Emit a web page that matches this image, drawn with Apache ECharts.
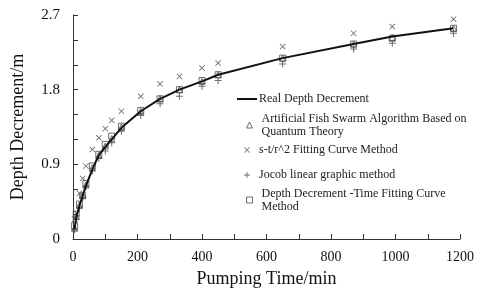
<!DOCTYPE html>
<html><head><meta charset="utf-8">
<script src="https://cdn.jsdelivr.net/npm/echarts@6/dist/echarts.min.js"></script>
<style>html,body{margin:0;padding:0;background:#fff}#c{width:480px;height:296px}</style>
</head><body><div id="c"></div>
<script>
// Pumping time (min)
const times = [5, 10, 20, 30, 40, 60, 80, 100, 120, 150, 210, 270, 330, 400, 450, 650, 870, 990, 1180];
// Depth decrement (m)
const realDepth   = [0.12, 0.26, 0.40, 0.52, 0.64, 0.84, 1.01, 1.11, 1.20, 1.34, 1.54, 1.69, 1.80, 1.90, 1.98, 2.18, 2.35, 2.44, 2.54];
const fishSwarm   = [0.13, 0.27, 0.41, 0.53, 0.65, 0.86, 1.01, 1.12, 1.21, 1.35, 1.54, 1.69, 1.80, 1.90, 1.98, 2.18, 2.35, 2.43, 2.54];
const strFitting  = [0.24, 0.31, 0.55, 0.73, 0.88, 1.08, 1.22, 1.33, 1.43, 1.54, 1.72, 1.87, 1.96, 2.06, 2.12, 2.32, 2.48, 2.56, 2.65];
const jacobLinear = [0.11, 0.24, 0.37, 0.50, 0.63, 0.82, 0.97, 1.06, 1.16, 1.30, 1.49, 1.63, 1.72, 1.84, 1.91, 2.11, 2.29, 2.36, 2.48];
const timeFitting = [0.16, 0.30, 0.42, 0.52, 0.67, 0.88, 1.02, 1.14, 1.24, 1.36, 1.55, 1.69, 1.80, 1.91, 1.98, 2.18, 2.35, 2.42, 2.54];
// Axis tick labels (ticks every 100 min / 0.3 m, labels on these)
const xTickLabels = [0, 200, 400, 600, 800, 1000, 1200];
const yTickLabels = [0, 0.9, 1.8, 2.7];

const names = [
  'Real Depth Decrement',
  'Artificial Fish Swarm Algorithm Based on Quantum Theory',
  's-t/r^2 Fitting Curve Method',
  'Jocob linear graphic method',
  'Depth Decrement -Time Fitting Curve Method'
];
const legendText = {
  [names[0]]: 'Real Depth Decrement',
  [names[1]]: 'Artificial Fish Swarm Algorithm Based on\nQuantum Theory',
  [names[2]]: 's-t/r^2 Fitting Curve Method',
  [names[3]]: 'Jocob linear graphic method',
  [names[4]]: 'Depth Decrement -Time Fitting Curve\nMethod'
};

const serif = "'Liberation Serif','Times New Roman',serif";
const axisColor = '#333';
const markColor = '#4a4a4a';
const PLUS = 'path://M8.5,0h3v8.5h8.5v3h-8.5v8.5h-3v-8.5h-8.5v-3h8.5z';
const CROSS = 'path://M0,2L2,0L10,8L18,0L20,2L12,10L20,18L18,20L10,12L2,20L0,18L8,10Z';
const LINEICON = 'path://M0,0h20v2h-20z';

function pairs(ys) { return times.map((t, i) => [t, ys[i]]); }

const legTextBase = { fontFamily: serif, fontSize: 12, color: '#222', lineHeight: 13 };
function legend(name, left, top, w, h, extra) {
  return Object.assign({
    data: [name], left: left, top: top, padding: 0, orient: 'vertical',
    itemWidth: w, itemHeight: h, selectedMode: false,
    formatter: n => legendText[n],
    textStyle: Object.assign({}, legTextBase, { padding: [0, 0, 0, 4] })
  }, extra || {});
}

const chart = echarts.init(document.getElementById('c'), null, { renderer: 'canvas' });
chart.setOption({
  animation: false,
  backgroundColor: '#fff',
  grid: { left: 73, right: 20, top: 15, bottom: 57, outerBoundsMode: 'none' },
  legend: [
    legend(names[0], 237, 92.5, 20, 2, {
      icon: LINEICON,
      textStyle: Object.assign({}, legTextBase, { padding: [0, 0, 0, -3] })
    }),
    legend(names[1], 244, 105.5, 6, 6, {
      itemStyle: { borderWidth: 1 },
      textStyle: Object.assign({}, legTextBase, { padding: [13, 0, 0, 4] })
    }),
    legend(names[2], 244, 143.5, 6, 6),
    legend(names[3], 244, 168.5, 6, 6),
    legend(names[4], 244, 180.5, 6, 6, {
      itemStyle: { borderWidth: 1 },
      textStyle: Object.assign({}, legTextBase, { padding: [13, 0, 0, 4] })
    })
  ],
  xAxis: {
    type: 'value', min: 0, max: 1200, interval: 100,
    name: 'Pumping Time/min', nameLocation: 'middle', nameGap: 31,
    nameTextStyle: { fontFamily: serif, fontSize: 18, color: '#111' },
    axisLine: { show: true, lineStyle: { color: axisColor, width: 1 } },
    axisTick: { show: true, inside: true, length: 5, lineStyle: { color: axisColor } },
    splitLine: { show: false },
    axisLabel: {
      fontFamily: serif, fontSize: 14, color: '#111', margin: 11,
      formatter: v => xTickLabels.indexOf(v) >= 0 ? String(v) : ''
    }
  },
  yAxis: {
    type: 'value', min: 0, max: 2.7, interval: 0.3,
    name: 'Depth Decrement/m', nameLocation: 'middle', nameGap: 46,
    nameTextStyle: { fontFamily: serif, fontSize: 18, color: '#111' },
    axisLine: { show: true, lineStyle: { color: axisColor, width: 1 } },
    axisTick: { show: true, inside: true, length: 5, lineStyle: { color: axisColor } },
    splitLine: { show: false },
    axisLabel: {
      fontFamily: serif, fontSize: 15, color: '#111', margin: 13,
      formatter: v => {
        const m = yTickLabels.find(t => Math.abs(t - v) < 1e-6);
        return m === undefined ? '' : String(m);
      }
    }
  },
  series: [
    {
      name: names[1], type: 'scatter', data: pairs(fishSwarm),
      symbol: 'triangle', symbolSize: 6,
      itemStyle: { color: 'none', borderColor: markColor, borderWidth: 1 }
    },
    {
      name: names[2], type: 'scatter', data: pairs(strFitting),
      symbol: CROSS, symbolSize: 6,
      itemStyle: { color: markColor }
    },
    {
      name: names[3], type: 'scatter', data: pairs(jacobLinear),
      symbol: PLUS, symbolSize: 7,
      itemStyle: { color: markColor }
    },
    {
      name: names[4], type: 'scatter', data: pairs(timeFitting),
      symbol: 'rect', symbolSize: 6,
      itemStyle: { color: 'none', borderColor: markColor, borderWidth: 1 }
    },
    {
      name: names[0], type: 'line', data: pairs(realDepth),
      symbol: 'none', showSymbol: false,
      lineStyle: { color: '#111', width: 2 }, itemStyle: { color: '#111' },
      z: 5
    }
  ]
});
</script>
</body></html>
